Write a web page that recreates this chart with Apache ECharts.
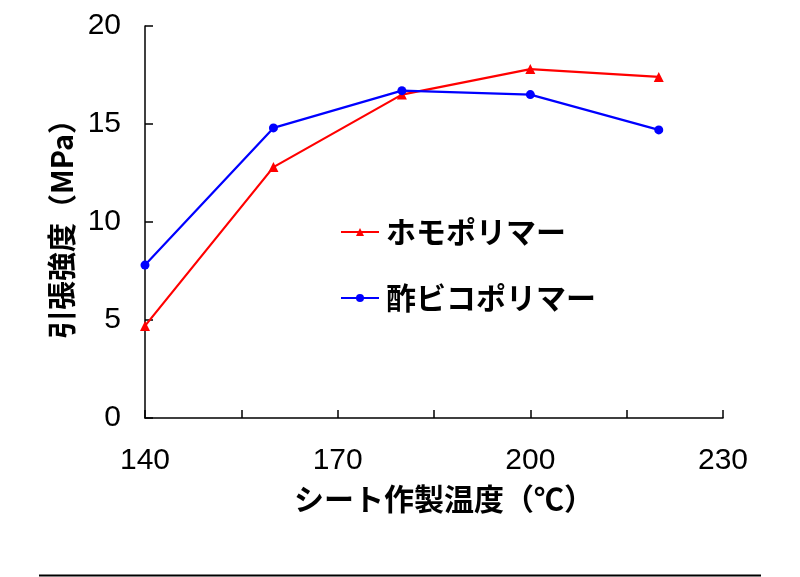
<!DOCTYPE html>
<html><head><meta charset="utf-8">
<script src="https://cdn.jsdelivr.net/npm/echarts@6/dist/echarts.min.js"></script>
<style>html,body{margin:0;padding:0;background:#fff}#c{width:800px;height:577px}</style>
</head><body><div id="c"></div>
<script>
const temps = [140, 160, 180, 200, 220];
const homoPolymer = [4.7, 12.8, 16.5, 17.8, 17.4];
const copolymer = [7.8, 14.8, 16.7, 16.5, 14.7];
const seriesNames = ['ホモポリマー', '酢ビコポリマー'];
const xTickLabels = ['140', '170', '200', '230'];
const xAxisName = 'シート作製温度（℃）';
const yAxisName = '引張強度（MPa）';

const jp = '"Noto Sans CJK JP", sans-serif';
const num = '"Liberation Sans", Arial, sans-serif';
const chart = echarts.init(document.getElementById('c'));
chart.setOption({
  animation: false,
  backgroundColor: '#fff',
  grid: {left: 145, right: 77, top: 26, bottom: 159, containLabel: false},
  legend: {
    orient: 'vertical', left: 335, top: 212, itemWidth: 38, itemHeight: 10, itemGap: 36,
    textStyle: {fontFamily: jp, fontWeight: 'bold', fontSize: 30, color: '#000', padding: [0,0,0,2]},
    data: seriesNames
  },
  xAxis: {
    type: 'value', min: 140, max: 230, interval: 15,
    name: xAxisName, nameLocation: 'middle', nameGap: 66,
    nameTextStyle: {fontFamily: jp, fontWeight: 'bold', fontSize: 30, color: '#000', padding: [0,0,0,20]},
    axisLine: {lineStyle: {color: '#000', width: 1.5}},
    axisTick: {inside: true, length: 8, lineStyle: {color: '#000', width: 1.5}},
    axisLabel: {margin: 28, fontFamily: num, fontSize: 30, color: '#000',
      formatter: v => xTickLabels.includes(String(v)) ? String(v) : ''},
    splitLine: {show: false}
  },
  yAxis: {
    type: 'value', min: 0, max: 20, interval: 5,
    name: yAxisName, nameLocation: 'middle', nameGap: 68, nameRotate: 90,
    nameTextStyle: {fontFamily: jp, fontWeight: 'bold', fontSize: 29, color: '#000'},
    axisLine: {show: true, lineStyle: {color: '#000', width: 1.5}},
    axisTick: {show: true, inside: true, length: 8, lineStyle: {color: '#000', width: 1.5}},
    axisLabel: {margin: 24, fontFamily: num, fontSize: 30, color: '#000'},
    splitLine: {show: false}
  },
  series: [
    {name: seriesNames[0], type: 'line', data: temps.map((t,i)=>[t, homoPolymer[i]]),
     symbol: 'triangle', symbolSize: 10, color: '#ff0000',
     lineStyle: {color: '#ff0000', width: 2.2}, itemStyle: {color: '#ff0000'}},
    {name: seriesNames[1], type: 'line', data: temps.map((t,i)=>[t, copolymer[i]]),
     symbol: 'circle', symbolSize: 9, color: '#0000ff',
     lineStyle: {color: '#0000ff', width: 2.2}, itemStyle: {color: '#0000ff'}}
  ],
  graphic: [{type: 'line', shape: {x1: 39, y1: 575.5, x2: 761, y2: 575.5},
    style: {stroke: '#000', lineWidth: 2}}]
});
</script></body></html>
